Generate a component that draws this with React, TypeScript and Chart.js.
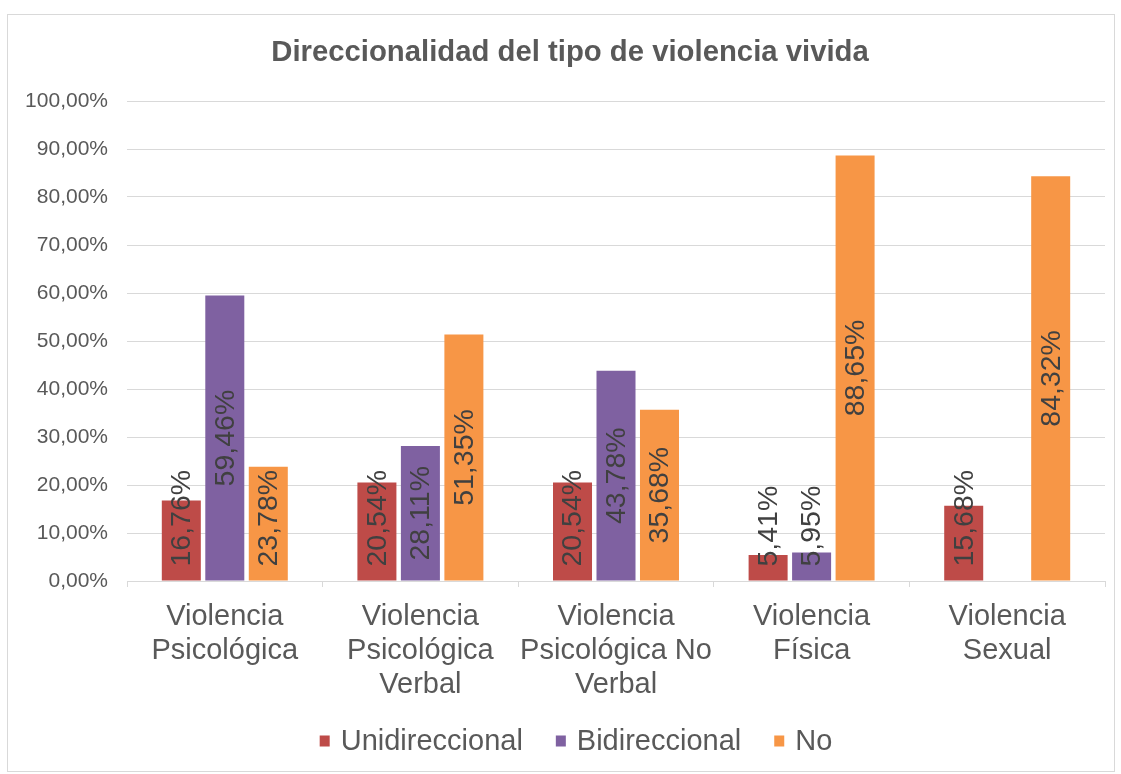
import React, { useEffect, useRef } from "react";
import { Chart, registerables } from "chart.js";

Chart.register(...registerables);

const categories: string[][] = [
  ["Violencia", "Psicológica"],
  ["Violencia", "Psicológica", "Verbal"],
  ["Violencia", "Psicológica No", "Verbal"],
  ["Violencia", "Física"],
  ["Violencia", "Sexual"],
];
const unidireccional: (number | null)[] = [16.76, 20.54, 20.54, 5.41, 15.68];
const bidireccional: (number | null)[] = [59.46, 28.11, 43.78, 5.95, null];
const no: (number | null)[] = [23.78, 51.35, 35.68, 88.65, 84.32];
const seriesNames = ["Unidireccional", "Bidireccional", "No"];
const seriesColors = ["#BE4B48", "#7F61A1", "#F79646"];
const title = "Direccionalidad del tipo de violencia vivida";

const FONT = "'Liberation Sans', Arial, sans-serif";
const fmt = (v: number) => v.toFixed(2).replace(".", ",") + "%";

const labelPlugin = {
  id: "barLabels",
  afterDatasetsDraw(chart: any) {
    const ctx = chart.ctx;
    ctx.save();
    ctx.font = `28.5px ${FONT}`;
    ctx.fillStyle = "#404040";
    ctx.textAlign = "center";
    ctx.textBaseline = "middle";
    chart.data.datasets.forEach((ds: any, i: number) => {
      const meta = chart.getDatasetMeta(i);
      meta.data.forEach((el: any, j: number) => {
        const v = ds.data[j];
        if (v === null || v === undefined) return;
        const txt = fmt(v);
        const w = ctx.measureText(txt).width;
        const base = el.base;
        let cy = (el.y + base) / 2;
        cy = Math.min(cy, base - 14 - w / 2);
        ctx.save();
        ctx.translate(el.x, cy);
        ctx.rotate(-Math.PI / 2);
        ctx.fillText(txt, 0, 1);
        ctx.restore();
      });
    });
    ctx.restore();
  },
};

const titleLegendPlugin = {
  id: "titleAndLegend",
  afterDraw(chart: any) {
    const ctx = chart.ctx;
    ctx.save();
    // title
    ctx.font = `bold 29.3px ${FONT}`;
    ctx.fillStyle = "#595959";
    ctx.textAlign = "center";
    ctx.textBaseline = "middle";
    ctx.fillText(title, 562, 38);
    // legend
    ctx.font = `29px ${FONT}`;
    ctx.textAlign = "left";
    const boxW = 10;
    const boxH = 11;
    const boxGap = 11;
    const itemGap = 33;
    const widths = seriesNames.map((n) => ctx.measureText(n).width);
    const total =
      widths.reduce((a, b) => a + b, 0) +
      seriesNames.length * (boxW + boxGap) +
      (seriesNames.length - 1) * itemGap;
    let x = 568 - total / 2;
    const cy = 726;
    seriesNames.forEach((n, i) => {
      ctx.fillStyle = seriesColors[i];
      ctx.fillRect(x, cy - boxH / 2, boxW, boxH);
      x += boxW + boxGap;
      ctx.fillStyle = "#595959";
      ctx.fillText(n, x, cy + 1);
      x += widths[i] + itemGap;
    });
    ctx.restore();
  },
};

export default function App() {
  const ref = useRef<HTMLCanvasElement | null>(null);
  useEffect(() => {
    if (!ref.current) return;
    const chart = new Chart(ref.current, {
      type: "bar",
      data: {
        labels: categories as any,
        datasets: [unidireccional, bidireccional, no].map((d, i) => ({
          label: seriesNames[i],
          data: d as any,
          backgroundColor: seriesColors[i],
          categoryPercentage: 0.667,
          barPercentage: 0.897,
        })),
      },
      options: {
        animation: false,
        responsive: true,
        maintainAspectRatio: false,
        layout: { padding: { left: 0, right: 9, top: 86, bottom: 54.5 } },
        plugins: {
          title: { display: false },
          legend: { display: false },
          tooltip: { enabled: false },
        },
        scales: {
          x: {
            grid: {
              display: true,
              drawOnChartArea: false,
              drawTicks: true,
              tickLength: 6,
              offset: true,
              color: "#D9D9D9",
            },
            border: { display: true, color: "#D9D9D9", width: 1 },
            ticks: {
              color: "#595959",
              font: { family: FONT, size: 29, lineHeight: 34 / 29 },
              padding: 13,
              maxRotation: 0,
              autoSkip: false,
            },
            afterFit(scale: any) {
              scale.height = 135.5;
            },
          },
          y: {
            min: 0,
            max: 100,
            grid: { color: "#D9D9D9", drawTicks: false, lineWidth: 1 },
            border: { display: false },
            ticks: {
              stepSize: 10,
              color: "#595959",
              font: { family: FONT, size: 21 },
              padding: 19,
              callback: (v: any) => fmt(Number(v)),
            },
            afterFit(scale: any) {
              scale.width = 119;
            },
          },
        },
      },
      plugins: [labelPlugin, titleLegendPlugin],
    });
    return () => chart.destroy();
  }, []);

  return (
    <div
      style={{
        position: "absolute",
        left: 7,
        top: 14,
        width: 1108,
        height: 758,
        boxSizing: "border-box",
        border: "1px solid #D9D9D9",
        background: "#fff",
      }}
    >
      <div style={{ position: "relative", width: 1106, height: 756 }}>
        <canvas ref={ref} />
      </div>
    </div>
  );
}
